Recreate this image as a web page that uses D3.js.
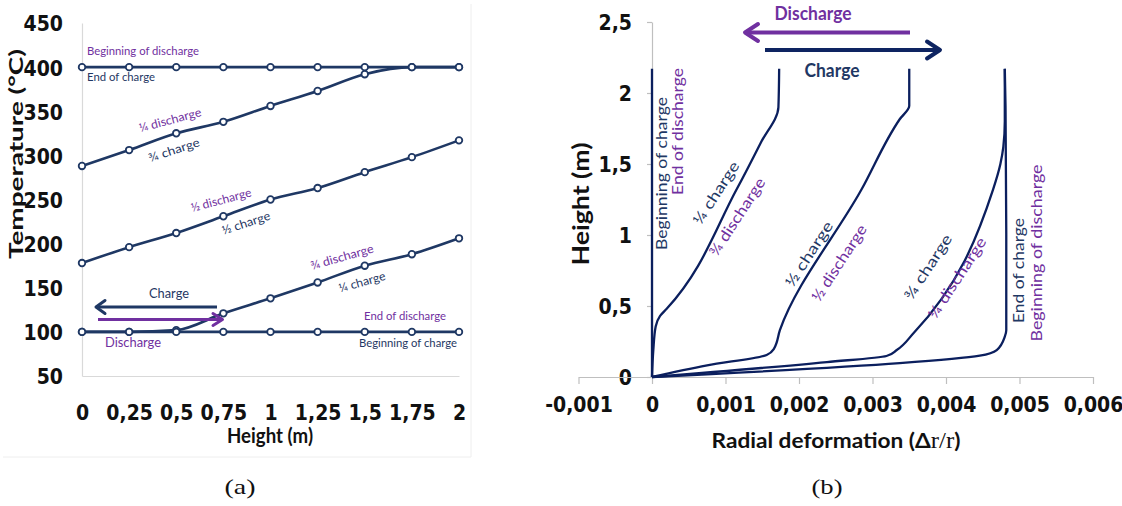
<!DOCTYPE html>
<html><head><meta charset="utf-8">
<script src="https://cdn.jsdelivr.net/npm/d3@7"></script>
<style>
body{margin:0;background:#fff;}
svg{display:block;}
</style></head><body>
<svg id="chart" width="1122" height="506"></svg>
<script>
// ---------------- Data: panel (a) temperature profiles ----------------
const heightsA = [0, 0.25, 0.5, 0.75, 1, 1.25, 1.5, 1.75, 2];
const heightTickLabelsA = ["0", "0,25", "0,5", "0,75", "1", "1,25", "1,5", "1,75", "2"];
const tempTicksA = [50, 100, 150, 200, 250, 300, 350, 400, 450];
const tempEndOfCharge = [400, 400, 400, 400, 400, 400, 400, 400, 400];
const tempQuarterDischarge = [288, 306, 325, 338, 356, 373, 392, 400, 400];
const tempHalfDischarge = [178, 196, 212, 231, 250, 263, 281, 298, 317];
const tempThreeQuarterDischarge = [100, 100, 102, 121, 138, 156, 175, 188, 206];
const tempBeginningOfCharge = [100, 100, 100, 100, 100, 100, 100, 100, 100];

// ---------------- Data: panel (b) radial deformation ----------------
const defTicksB = [-0.001, 0, 0.001, 0.002, 0.003, 0.004, 0.005, 0.006];
const defTickLabelsB = ["-0,001", "0", "0,001", "0,002", "0,003", "0,004", "0,005", "0,006"];
const hTicksB = [0, 0.5, 1, 1.5, 2, 2.5];
const hTickLabelsB = ["0", "0,5", "1", "1,5", "2", "2,5"];
// each curve: deformation values and matching heights
const defBeginningOfCharge = [0, 0];
const hBeginningOfCharge   = [0, 2.17];
const defQuarterCharge = [0, 0.000018, 0.00005, 0.00011, 0.0002, 0.00115, 0.00148, 0.00172, 0.00173];
const hQuarterCharge   = [0, 0.19, 0.355, 0.43, 0.48, 1.32, 1.65, 1.9, 2.17];
const defHalfCharge = [0, 0.00075, 0.00156, 0.00166, 0.00174, 0.00285, 0.00337, 0.0035, 0.0035];
const hHalfCharge   = [0, 0.082, 0.155, 0.2, 0.33, 1.32, 1.815, 1.91, 2.17];
const defThreeQuarterCharge = [0, 0.00238, 0.00319, 0.00333, 0.00356, 0.00464, 0.00474, 0.00478, 0.0048, 0.0048];
const hThreeQuarterCharge   = [0, 0.105, 0.148, 0.19, 0.31, 1.32, 1.5, 1.62, 1.8, 2.17];
const defEndOfCharge = [0, 0.00337, 0.00446, 0.00469, 0.0048, 0.00482, 0.00482, 0.00481, 0.0048];
const hEndOfCharge   = [0, 0.097, 0.15, 0.19, 0.285, 0.33, 1.0, 1.9, 2.17];

// ---------------- Styles ----------------
const navyA = "#1F3864", purple = "#7030A0", navyB = "#0B1F5E";
const tickFont = "'Liberation Sans Narrow','Arial Narrow','DejaVu Sans Condensed',sans-serif";
const titleFont = "Lato,'Open Sans',sans-serif";
const annFont = "Lato,'Open Sans',sans-serif";

const svg = d3.select("#chart");

function label(g, txt, x, y, opts) {
  const o = Object.assign({angle: 0, color: navyA, size: 12, weight: "normal", anchor: "middle", font: annFont, dy: "0.35em"}, opts);
  const t = g.append("text")
    .attr("transform", `translate(${x},${y}) rotate(${o.angle})`)
    .attr("text-anchor", o.anchor)
    .attr("dy", o.dy)
    .attr("fill", o.color)
    .attr("font-family", o.font)
    .attr("font-size", o.size)
    .attr("font-weight", o.weight)
    .text(txt);
  if (o.len) t.attr("textLength", o.len).attr("lengthAdjust", "spacingAndGlyphs");
  return t;
}
function arrow(g, x1, y, x2, color, w, hx, hy) {
  const dir = x2 > x1 ? -1 : 1;
  g.append("line").attr("x1", x1).attr("y1", y).attr("x2", x2).attr("y2", y)
    .attr("stroke", color).attr("stroke-width", w);
  g.append("path")
    .attr("d", `M${x2 + dir * hx},${y - hy} L${x2},${y} L${x2 + dir * hx},${y + hy}`)
    .attr("fill", "none").attr("stroke", color).attr("stroke-width", w)
    .attr("stroke-linecap", "round").attr("stroke-linejoin", "round");
}

// ================= Panel (a) =================
const gA = svg.append("g");
gA.append("path").attr("d", "M471,4 V457 H3").attr("fill", "none").attr("stroke", "#EEEEEE");

const xA = d3.scaleLinear().domain([0, 2]).range([82, 459]);
const yA = d3.scaleLinear().domain([50, 450]).range([376, 23]);

const axYA = gA.append("g").attr("transform", `translate(${xA(0)},0)`)
  .call(d3.axisLeft(yA).tickValues(tempTicksA).tickSize(0).tickPadding(19).tickFormat(d => d));
const axXA = gA.append("g").attr("transform", `translate(0,${yA(50)})`)
  .call(d3.axisBottom(xA).tickValues(heightsA).tickSize(0).tickPadding(29)
    .tickFormat((d, i) => heightTickLabelsA[i]));
[axYA, axXA].forEach(ax => {
  ax.select(".domain").attr("stroke", "#D9D9D9").attr("stroke-width", 1.2);
  ax.selectAll("text").attr("font-family", tickFont).attr("font-weight", "bold")
    .attr("font-size", 21).attr("fill", "#111");
});
axYA.selectAll("text").attr("dy", "0.38em");

const seriesA = [tempEndOfCharge, tempQuarterDischarge, tempHalfDischarge, tempThreeQuarterDischarge, tempBeginningOfCharge];
const lineA = d3.line().x((d, i) => xA(heightsA[i])).y(d => yA(d)).curve(d3.curveMonotoneX);
seriesA.forEach(s => {
  gA.append("path").attr("d", lineA(s)).attr("fill", "none")
    .attr("stroke", navyA).attr("stroke-width", 2.6);
});
seriesA.forEach(s => {
  gA.selectAll(null).data(s).enter().append("circle")
    .attr("cx", (d, i) => xA(heightsA[i])).attr("cy", d => yA(d)).attr("r", 3.3)
    .attr("fill", "#fff").attr("stroke", navyA).attr("stroke-width", 1.8);
});

// titles (a)
label(gA, "Height (m)", 270, 443, {font: titleFont, weight: "bold", size: 20, color: "#111", dy: 0, len: 86});
label(gA, "Temperature (°C)", 23, 154, {font: titleFont, weight: "bold", size: 18, color: "#111", dy: 0, angle: -90, len: 210});

// annotations (a)
label(gA, "Beginning of discharge", 87, 55, {anchor: "start", color: purple, size: 11, dy: 0, len: 112});
label(gA, "End of charge", 87, 80.5, {anchor: "start", color: navyA, size: 11, dy: 0, len: 68});
label(gA, "¼  discharge", 170, 120, {angle: -15, color: purple, size: 12, len: 64});
label(gA, "¾  charge", 174, 150, {angle: -18, color: navyA, size: 12, len: 53});
label(gA, "½ discharge", 221, 200, {angle: -15, color: purple, size: 12, len: 62});
label(gA, "½  charge", 246, 223, {angle: -18, color: navyA, size: 12, len: 50});
label(gA, "¾  discharge", 342, 257, {angle: -16, color: purple, size: 12, len: 65});
label(gA, "¼ charge", 362, 282, {angle: -15.5, color: navyA, size: 12, len: 48});
label(gA, "End of discharge", 364, 320, {anchor: "start", color: purple, size: 11, dy: 0, len: 82});
label(gA, "Beginning of charge", 359, 347, {anchor: "start", color: navyA, size: 11, dy: 0, len: 98});
label(gA, "Charge", 169, 297.5, {color: navyA, size: 14, dy: 0, len: 40});
label(gA, "Discharge", 133, 346.5, {color: purple, size: 14, dy: 0, len: 56});
arrow(gA, 217, 307, 96, navyA, 3, 9, 6.5);
arrow(gA, 98, 319.5, 222.5, purple, 3, 9.5, 6);

// ================= Panel (b) =================
const gB = svg.append("g");
const xB = d3.scaleLinear().domain([-0.001, 0.006]).range([578.5, 1093]);
const yB = d3.scaleLinear().domain([0, 2.5]).range([377, 22]);

const axYB = gB.append("g").attr("transform", `translate(${xB(0)},0)`)
  .call(d3.axisLeft(yB).tickValues(hTicksB).tickSize(5).tickSizeOuter(0).tickPadding(15)
    .tickFormat((d, i) => hTickLabelsB[i]));
const axXB = gB.append("g").attr("transform", `translate(0,${yB(0)})`)
  .call(d3.axisBottom(xB).tickValues(defTicksB).tickSize(7).tickSizeOuter(0).tickPadding(13)
    .tickFormat((d, i) => defTickLabelsB[i]));
[axYB, axXB].forEach(ax => {
  ax.select(".domain").attr("stroke", "#BFBFBF").attr("stroke-width", 1.2);
  ax.selectAll(".tick line").attr("stroke", "#BFBFBF").attr("stroke-width", 1.2);
  ax.selectAll("text").attr("font-family", tickFont).attr("font-weight", "bold")
    .attr("font-size", 21).attr("fill", "#111");
});
axYB.selectAll("text").attr("dy", "0.36em");

const curvesB = [
  [defBeginningOfCharge, hBeginningOfCharge],
  [defQuarterCharge, hQuarterCharge],
  [defHalfCharge, hHalfCharge],
  [defThreeQuarterCharge, hThreeQuarterCharge],
  [defEndOfCharge, hEndOfCharge]
];
const lineB = d3.line().x(d => xB(d[0])).y(d => yB(d[1])).curve(d3.curveMonotoneY);
curvesB.forEach(([defs, hs]) => {
  const pts = defs.map((d, i) => [d, hs[i]]).reverse();
  gB.append("path").attr("d", lineB(pts)).attr("fill", "none")
    .attr("stroke", navyB).attr("stroke-width", 2.3).attr("stroke-linejoin", "round");
});

// titles (b)
const xt = gB.append("text").attr("x", 836).attr("y", 448).attr("text-anchor", "middle")
  .attr("font-family", titleFont).attr("font-size", 21).attr("font-weight", "bold").attr("fill", "#111")
  .attr("textLength", 249).attr("lengthAdjust", "spacingAndGlyphs");
xt.append("tspan").text("Radial deformation (Δ");
xt.append("tspan").attr("font-family", "'Liberation Serif','DejaVu Serif',serif").attr("font-weight", "normal").attr("font-size", 23).text("r/r");
xt.append("tspan").text(")");
label(gB, "Height (m)", 589, 204, {font: titleFont, weight: "bold", size: 23, color: "#111", dy: 0, angle: -90, len: 123});

// annotations (b)
label(gB, "Beginning of charge", 662, 173.5, {angle: -90, color: navyA, size: 15, len: 153});
label(gB, "End of discharge", 678, 131.5, {angle: -90, color: purple, size: 15, len: 127});
label(gB, "¼ charge", 716, 193, {angle: -57, color: navyA, size: 15, len: 72});
label(gB, "¾ discharge", 737, 217, {angle: -57, color: purple, size: 15, len: 90});
label(gB, "½ charge", 809, 254, {angle: -57, color: navyA, size: 15, len: 75});
label(gB, "½ discharge", 839, 263, {angle: -57, color: purple, size: 15, len: 88});
label(gB, "¾ charge", 928, 267, {angle: -57, color: navyA, size: 15, len: 75});
label(gB, "¼ discharge", 957, 278, {angle: -57, color: purple, size: 15, len: 94});
label(gB, "End of charge", 1018.5, 270.5, {angle: -90, color: navyA, size: 15, len: 105});
label(gB, "Beginning of discharge", 1037, 253, {angle: -90, color: purple, size: 15, len: 177});

label(gB, "Discharge", 813, 20, {color: purple, size: 18, weight: "bold", dy: 0, len: 77});
label(gB, "Charge", 832, 76.5, {color: navyA, size: 18, weight: "bold", dy: 0, len: 55});
arrow(gB, 910, 32.5, 745, purple, 4, 13, 8.5);
arrow(gB, 765, 50, 940, "#0E2461", 4, 13, 8.5);

// captions
svg.append("text").attr("x", 240).attr("y", 494).attr("text-anchor", "middle")
  .attr("font-family", "'Liberation Serif','DejaVu Serif',serif").attr("font-size", 22).attr("fill", "#111")
  .attr("textLength", 31).attr("lengthAdjust", "spacingAndGlyphs").text("(a)");
svg.append("text").attr("x", 827).attr("y", 494).attr("text-anchor", "middle")
  .attr("font-family", "'Liberation Serif','DejaVu Serif',serif").attr("font-size", 22).attr("fill", "#111")
  .attr("textLength", 31).attr("lengthAdjust", "spacingAndGlyphs").text("(b)");
</script>
</body></html>
